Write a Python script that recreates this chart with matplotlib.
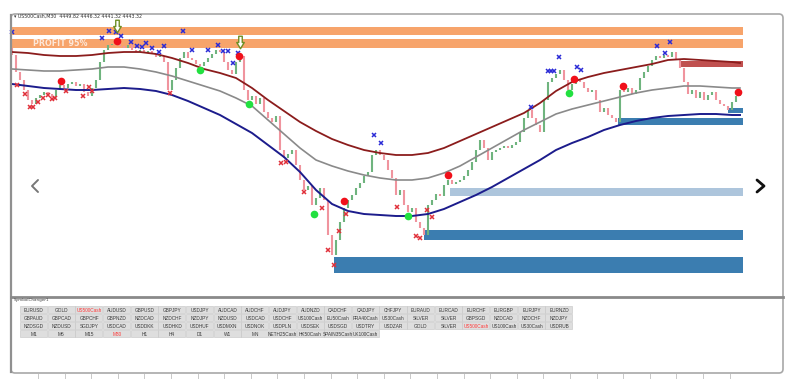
import matplotlib
matplotlib.use("Agg")
import matplotlib.pyplot as plt
from matplotlib.patches import Rectangle, FancyBboxPatch
from matplotlib.path import Path

# ---------------- data (price units, bar index) ----------------
first_open = 4552
closes = [4545, 4528, 4520, 4510, 4500, 4496, 4502, 4505, 4508, 4506, 4503, 4510, 4515, 4512, 4516, 4518,
          4514, 4516, 4508, 4504, 4512, 4520, 4538, 4550, 4555, 4556, 4558, 4554, 4552, 4555, 4550, 4548,
          4550, 4547, 4549, 4546, 4543, 4544, 4538, 4510, 4520, 4532, 4542, 4548, 4542, 4540, 4536, 4534,
          4538, 4542, 4546, 4550, 4548, 4538, 4530, 4526, 4538, 4544, 4510, 4500, 4504, 4496, 4502, 4488,
          4482, 4478, 4484, 4450, 4442, 4446, 4450, 4435, 4420, 4410, 4414, 4395, 4402, 4412, 4400, 4365,
          4345, 4360, 4378, 4392, 4400, 4405, 4412, 4417, 4424, 4428, 4445, 4450, 4445, 4440, 4430, 4422,
          4405, 4410, 4395, 4388, 4392, 4378, 4372, 4365, 4395, 4400, 4406, 4404, 4415, 4420, 4416, 4418,
          4420, 4424, 4430, 4438, 4450, 4460, 4452, 4440, 4448, 4450, 4452, 4454, 4452, 4455, 4458, 4468,
          4482, 4490, 4482, 4475, 4468, 4500, 4518, 4522, 4526, 4530, 4520, 4510, 4516, 4520, 4518, 4512,
          4508, 4510, 4500, 4488, 4492, 4485, 4482, 4478, 4510, 4508, 4512, 4506, 4510, 4522, 4528, 4534,
          4540, 4544, 4542, 4545, 4543, 4548, 4540, 4532, 4518, 4506, 4510, 4502, 4508, 4500, 4505, 4508,
          4500, 4496, 4494, 4490, 4498, 4504, 4506]

ma_idx = list(range(0, 181, 4)) + [182]
ma_upper = [4548, 4547, 4545, 4544, 4544, 4545, 4547, 4548, 4548, 4546, 4542, 4537, 4531, 4527, 4522, 4512,
            4500, 4489, 4478, 4469, 4461, 4455, 4450, 4447, 4445, 4445, 4447, 4452, 4459, 4466, 4473, 4480,
            4487, 4497, 4509, 4518, 4523, 4527, 4530, 4533, 4536, 4540, 4541, 4540, 4539, 4538, 4537]
ma_mid = [4531, 4530, 4529, 4529, 4530, 4531, 4533, 4533, 4531, 4528, 4524, 4519, 4514, 4509, 4502, 4494,
          4480, 4466, 4452, 4440, 4434, 4429, 4425, 4422, 4420, 4420, 4422, 4427, 4434, 4443, 4452, 4461,
          4470, 4478, 4486, 4491, 4495, 4499, 4503, 4507, 4510, 4512, 4514, 4514, 4513, 4512, 4512]
ma_lower = [4516, 4514, 4512, 4511, 4510, 4510, 4511, 4512, 4511, 4509, 4505, 4499, 4492, 4485, 4476, 4467,
            4455, 4443, 4428, 4410, 4396, 4389, 4386, 4385, 4384, 4384, 4386, 4391, 4398, 4405, 4413, 4422,
            4431, 4440, 4450, 4457, 4463, 4470, 4475, 4479, 4482, 4484, 4485, 4486, 4486, 4485, 4485]

# zones: start bar, top price, bottom price, colour
zone_start = [0, 0, 167, 179, 151.5, 109.5, 103, 80.5]
zone_top = [4573, 4561, 4539, 4492, 4482, 4412, 4370, 4343]
zone_bot = [4565, 4552, 4533, 4487, 4475, 4404, 4360, 4327]
zone_col = ['#f7a46b', '#f7a46b', '#c0504f', '#3b7db0', '#3b7db0', '#adc5dc', '#3b7db0', '#3b7db0']
zone_end = 182.75

hi_x = [0, 22.5, 24.25, 26, 27.25, 29.75, 31.25, 32.5, 33.5, 35, 36.75, 38, 42.75, 45, 49, 51.5, 52.75,
        54, 55.25, 56.5, 90.5, 92.25, 129.75, 134, 134.75, 135.5, 136.75, 141.25, 142.25, 161.25, 163.25, 164.5]
hi_y = [4568, 4562, 4569, 4568, 4564, 4558, 4554, 4553, 4557, 4552, 4548, 4554, 4569, 4550, 4550, 4555, 4549,
        4549, 4537, 4547, 4465, 4457, 4493, 4529, 4529, 4529, 4543, 4533, 4530, 4554, 4547, 4558]
lo_x = [1.25, 3.25, 4.5, 5.25, 6.5, 7.75, 9, 10, 10.75, 13.5, 17.75, 19.25, 20, 39.5, 67.25, 68.5, 73, 77.5,
        79, 80.5, 81.75, 83.5, 96.25, 101, 102, 103.75, 105]
lo_y = [4515, 4506, 4493, 4493, 4498, 4502, 4505, 4501, 4502, 4509, 4504, 4513, 4509, 4507, 4437, 4438, 4408,
        4392, 4350, 4335, 4369, 4386, 4393, 4364, 4362, 4390, 4383]

red_dot_x = [12.25, 26.25, 56.75, 83, 109, 140.5, 152.75, 181.5]
red_dot_y = [4519, 4559, 4544, 4399, 4425, 4521, 4514, 4508]
green_dot_x = [47, 59.25, 75.5, 99, 139.25]
green_dot_y = [4530, 4496, 4386, 4384, 4507]
arrow_x = [26.25, 57]
arrow_y = [4574, 4558]

title = "▾ US500Cash,M30  4449.82 4446.32 4441.32 4443.32"
profit_label = "PROFIT 95%"

rows = [
    ["EURUSD", "GOLD", "US500Cash", "AUDUSD", "GBPUSD", "GBPJPY", "USDJPY", "AUDCAD", "AUDCHF", "AUDJPY",
     "AUDNZD", "CADCHF", "CADJPY", "CHFJPY", "EURAUD", "EURCAD", "EURCHF", "EURGBP", "EURJPY", "EURNZD"],
    ["GBPAUD", "GBPCAD", "GBPCHF", "GBPNZD", "NZDCAD", "NZDCHF", "NZDJPY", "NZDUSD", "USDCAD", "USDCHF",
     "US100Cash", "EU50Cash", "FRA40Cash", "US30Cash", "SILVER", "SILVER", "GBPSGD", "NZDCAD", "NZDCHF", "NZDJPY"],
    ["NZDSGD", "NZDUSD", "SGDJPY", "USDCAD", "USDDKK", "USDHKD", "USDHUF", "USDMXN", "USDNOK", "USDPLN",
     "USDSEK", "USDSGD", "USDTRY", "USDZAR", "GOLD", "SILVER", "US500Cash", "US100Cash", "US30Cash", "USDRUB"],
    ["M1", "M5", "M15", "M30", "H1", "H4", "D1", "W1", "MN", "NETH25Cash", "HK50Cash", "SPAIN35Cash", "UK100Cash"],
]
active = {(0, 2), (2, 16), (3, 3)}

# ---------------- figure ----------------
W, H = 799, 384
fig = plt.figure(figsize=(W / 100, H / 100), dpi=100)
fig.patch.set_facecolor('white')

ax = fig.add_axes([0, 0, 1, 1])
ax.set_xlim(-3, 196.75)
ax.set_ylim(4216, 4600)
ax.axis('off')

# zones
for s, t, b, c in zip(zone_start, zone_top, zone_bot, zone_col):
    ax.add_patch(Rectangle((s, b), zone_end - s, t - b, facecolor=c, edgecolor='none', zorder=1))

ax.text(5.2, 4557, profit_label, color='white', alpha=0.75, fontsize=5.8, va='center', ha='left',
        fontweight='bold', zorder=3)

# candles
opens = [first_open] + closes[:-1]
for i, (o, c) in enumerate(zip(opens, closes)):
    col = '#6fb47e' if c >= o else '#f0949e'
    ax.vlines(i, min(o, c), max(o, c), color=col, lw=1.5, zorder=2)

# moving average envelopes
ax.plot(ma_idx, ma_upper, color='#8b1c1c', lw=1.3, zorder=4)
ax.plot(ma_idx, ma_mid, color='#8a8a8a', lw=1.2, zorder=4)
ax.plot(ma_idx, ma_lower, color='#1c1c8c', lw=1.4, zorder=4)

# markers
ax.plot(hi_x, hi_y, ls='none', marker='x', ms=3.0, mew=1.1, color='#2b2bd6', zorder=5)
ax.plot(lo_x, lo_y, ls='none', marker='x', ms=3.0, mew=1.1, color='#e0303a', zorder=5)
ax.plot(red_dot_x, red_dot_y, ls='none', marker='o', ms=5.5, color='#f0101a', mec='none', zorder=6)
ax.plot(green_dot_x, green_dot_y, ls='none', marker='o', ms=5.5, color='#22e040', mec='none', zorder=6)

arrow_path = Path([(-0.28, 1.0), (0.28, 1.0), (0.28, 0.0), (0.6, 0.0), (0.0, -1.0), (-0.6, 0.0),
                   (-0.28, 0.0), (-0.28, 1.0)], closed=True)
ax.plot(arrow_x, arrow_y, ls='none', marker=arrow_path, ms=9, mfc='white', mec='#6f8f25', mew=1.0, zorder=6)

# ---------------- pixel overlay ----------------
pax = fig.add_axes([0, 0, 1, 1], facecolor='none')
pax.set_xlim(0, W)
pax.set_ylim(H, 0)
pax.axis('off')

# outer frame
pax.add_patch(FancyBboxPatch((11, 14), 772, 359, boxstyle="round,pad=0,rounding_size=4",
                             facecolor='none', edgecolor='#a8a8a8', lw=1.2, zorder=10))
pax.plot([11, 11], [15, 372], color='#909090', lw=1.6, zorder=10)
pax.plot([11, 783], [297, 297], color='#8a8a8a', lw=2.0, zorder=10)
# faint bottom ticks
for k in range(27):
    x = 38 + k * 26.6
    pax.plot([x, x], [374, 378], color='#c8c8c8', lw=0.7)

pax.text(14, 16.5, title, fontsize=3.4, color='#333333', va='center', ha='left',
         family=['DejaVu Sans'], zorder=11)
pax.text(14, 299.5, "SymbolChanger1", fontsize=3.0, color='#444444', va='center', ha='left', zorder=11)

# carousel chevrons
pax.plot([38, 32, 38], [180, 186, 192], color='#777777', lw=1.4, solid_capstyle='round', zorder=11)
pax.plot([757, 764, 757], [180, 186, 192], color='#111111', lw=2.0, solid_capstyle='round', zorder=11)

# buttons
bx0, by0, bw, bh = 20, 306, 27.65, 8
for r, row in enumerate(rows):
    for c, lab in enumerate(row):
        x = bx0 + c * bw
        y = by0 + r * bh
        rect = Rectangle((x, y), bw - 0.6, bh - 0.6, facecolor='#dedede', edgecolor='#c4c4c4', lw=0.4, zorder=11)
        pax.add_patch(rect)
        t = pax.text(x + bw / 2, y + bh / 2, lab, fontsize=3.4, ha='center', va='center',
                     color='#ff3b3b' if (r, c) in active else '#3a3a3a',
                     family=['Liberation Sans', 'DejaVu Sans'], zorder=12)
        t.set_clip_path(rect)

fig.savefig('out.png', dpi=100, facecolor='white')
